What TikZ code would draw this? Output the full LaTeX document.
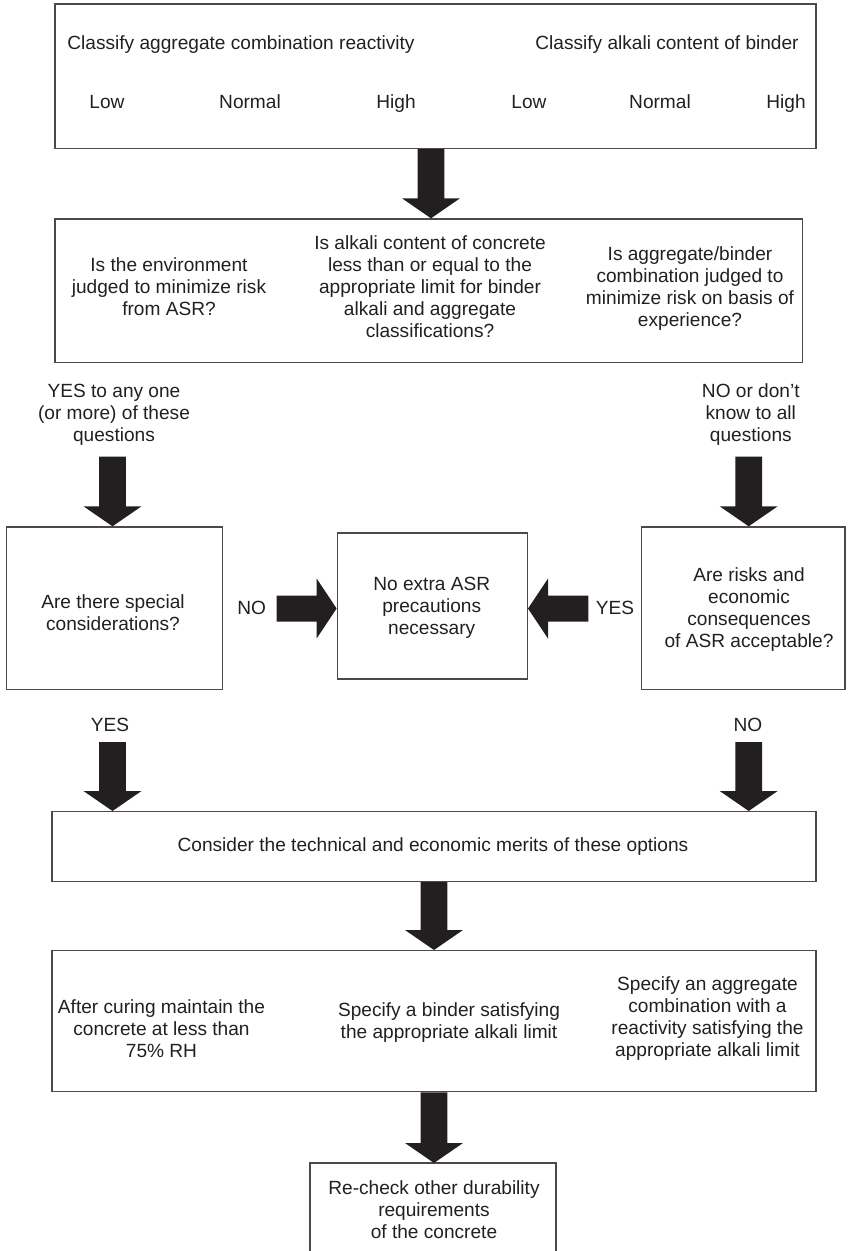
\documentclass[tikz,border=0pt]{standalone}
\usepackage{fontspec}
\setmainfont{Liberation Sans}
\usetikzlibrary{calc}
\definecolor{ink}{HTML}{231F20}
\definecolor{rule}{HTML}{4A4A4A}

% thick block arrows: shaft 26.6, head 58 wide and 20 long
\newcommand\fatdown[2]{\fill[ink] let \p1=(#1), \p2=(#2) in
  (\x1-13.3pt,\y1) -- (\x1+13.3pt,\y1) -- (\x1+13.3pt,\y2+20pt) -- (\x1+29pt,\y2+20pt)
  -- (\x1,\y2) -- (\x1-29pt,\y2+20pt) -- (\x1-13.3pt,\y2+20pt) -- cycle;}
\newcommand\fatright[2]{\fill[ink] let \p1=(#1), \p2=(#2) in
  (\x1,\y1+13pt) -- (\x2-20pt,\y1+13pt) -- (\x2-20pt,\y1+30pt) -- (\x2,\y1)
  -- (\x2-20pt,\y1-30pt) -- (\x2-20pt,\y1-13pt) -- (\x1,\y1-13pt) -- cycle;}
\newcommand\fatleft[2]{\fill[ink] let \p1=(#1), \p2=(#2) in
  (\x1,\y1+13pt) -- (\x2+20pt,\y1+13pt) -- (\x2+20pt,\y1+30pt) -- (\x2,\y1)
  -- (\x2+20pt,\y1-30pt) -- (\x2+20pt,\y1-13pt) -- (\x1,\y1-13pt) -- cycle;}

\begin{document}
\begin{tikzpicture}[x=1pt,y=-1pt,
  box/.style={draw=rule,line width=1.4pt,inner sep=0pt},
  frame/.style={inner sep=0pt,outer sep=0pt},
  txt/.style={align=center,font=\fontsize{19.1}{22}\selectfont,text=ink,inner sep=0pt},
  one/.style={txt,text height=13.7pt,text depth=4pt},
]
\useasboundingbox (0,0) rectangle (847,1251);

% ---- boxes ----
\node[box,minimum width=761pt,minimum height=144.3pt] (classify) at (435.5,76.15) {};
\node[box,minimum width=747.5pt,minimum height=143.3pt] (questions) at (428.75,290.65) {};
\node[box,minimum width=216pt,minimum height=162.5pt] (special) at (114.7,608.25) {};
\node[box,minimum width=190pt,minimum height=146pt] (noextra) at (432.3,606) {};
\node[box,minimum width=203.3pt,minimum height=162.5pt] (risks) at (743.35,608.25) {};
\node[box,minimum width=764pt,minimum height=69.8pt] (consider) at (434,846.6) {};
\node[box,minimum width=764pt,minimum height=141pt] (options) at (434,1021.2) {};
\node[frame,minimum width=246pt,minimum height=93pt] (recheck) at (433,1209.5) {};
\draw[rule,line width=1.4pt] (recheck.south west) -- (recheck.north west)
  -- (recheck.north east) -- (recheck.south east);

% ---- texts ----
\node[one] (hagg) at (241,45) {Classify aggregate combination reactivity};
\node[one] (halk) at (667,45) {Classify alkali content of binder};
\node[one] (alow)  at (107,103.7) {Low};
\node[one] (anorm) at (250,103.7) {Normal};
\node[one] (ahigh) at (396,103.7) {High};
\node[one] (blow)  at (529,103.7) {Low};
\node[one] (bnorm) at (660,103.7) {Normal};
\node[one] (bhigh) at (786,103.7) {High};

\node[txt] (qenv) at (169,287) {Is the environment\\judged to minimize risk\\from ASR?};
\node[txt] (qalk) at (430,287) {Is alkali content of concrete\\less than or equal to the\\appropriate limit for binder\\alkali and aggregate\\classifications?};
\node[txt] (qexp) at (690,288.5) {Is aggregate/binder\\combination judged to\\minimize risk on basis of\\experience?};

\node[txt] (yesany) at (114,415) {YES to any one\\(or more) of these\\questions};
\node[txt] (nodont) at (750.8,415) {NO or don’t\\know to all\\questions};

\node[txt] (tspecial) at (113,613) {Are there special\\considerations?};
\node[txt] (tnoextra) at (431.7,608) {No extra ASR\\precautions\\necessary};
\node[txt] (trisks) at (749,610) {Are risks and\\economic\\consequences\\of ASR acceptable?};
\node[one] (lno) at (251.7,610) {NO};
\node[one] (lyes) at (615,610) {YES};

\node[one] (byes) at (110,727) {YES};
\node[one] (bno) at (748,727) {NO};

\node[one] (tconsider) at (433,847) {Consider the technical and economic merits of these options};
\node[txt] (trh) at (161.5,1029) {After curing maintain the\\concrete at less than\\75\% RH};
\node[txt] (tbinder) at (449,1023) {Specify a binder satisfying\\the appropriate alkali limit};
\node[txt] (tagg) at (707.5,1018.5) {Specify an aggregate\\combination with a\\reactivity satisfying the\\appropriate alkali limit};
\node[txt] (trecheck) at (434,1210) {Re-check other durability\\requirements\\of the concrete};

% ---- arrow columns and free ends ----
\coordinate (c1) at (431,0);
\coordinate (cm) at (434,0);
\coordinate (cl) at (112.5,0);
\coordinate (cr) at (748.7,0);
\coordinate (yesstart) at (112.5,456.7);
\coordinate (nostart) at (748.7,456.7);
\coordinate (nohstart) at (276.7,608.5);
\coordinate (yeshstart) at (588.3,608.5);
\coordinate (ybstart) at (112.5,742);
\coordinate (nbstart) at (748.7,742);

% ---- arrows ----
\fatdown{classify.south -| c1}{questions.north -| c1}
\fatdown{yesstart}{special.north -| cl}
\fatdown{nostart}{risks.north -| cr}
\fatright{nohstart}{noextra.west |- nohstart}
\fatleft{yeshstart}{noextra.east |- yeshstart}
\fatdown{ybstart}{consider.north -| cl}
\fatdown{nbstart}{consider.north -| cr}
\fatdown{consider.south -| cm}{options.north -| cm}
\fatdown{options.south -| cm}{recheck.north -| cm}
\end{tikzpicture}
\end{document}
